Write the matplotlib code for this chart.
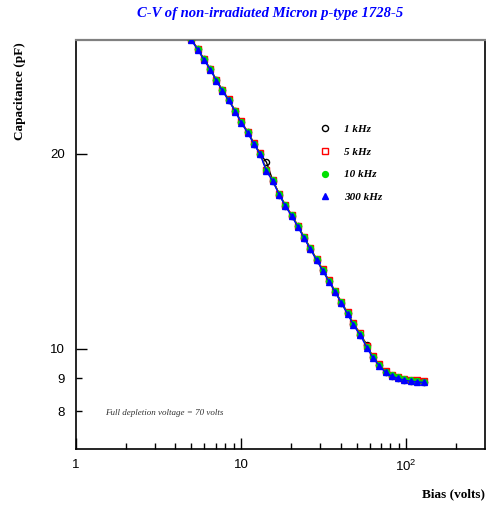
import matplotlib
matplotlib.use("Agg")
import matplotlib.pyplot as plt
from matplotlib.ticker import FixedLocator, FixedFormatter, NullFormatter

plt.rcParams["mathtext.fontset"] = "custom"
plt.rcParams["mathtext.rm"] = "Liberation Sans"
plt.rcParams["mathtext.it"] = "Liberation Sans:italic"
plt.rcParams["mathtext.bf"] = "Liberation Sans:bold"

volts = [4.98, 5.47, 5.97, 6.52, 7.09, 7.70, 8.42, 9.24, 10.0, 10.98, 11.99, 13.04,
         14.23, 15.56, 17.07, 18.56, 20.29, 22.13, 24.12, 26.30, 28.68, 31.27, 34.10,
         37.18, 40.54, 44.21, 47.93, 52.63, 57.78, 62.84, 68.89, 74.92, 81.90, 89.43,
         97.25, 106.2, 116.1, 127.3]

c_1k = [30.09, 29.03, 27.99, 27.03, 25.99, 25.08, 24.24, 23.27, 22.41, 21.60, 20.73, 20.01,
        19.43, 18.19, 17.30, 16.64, 16.06, 15.45, 14.85, 14.28, 13.73, 13.22, 12.72,
        12.25, 11.78, 11.34, 10.91, 10.52, 10.15, 9.70, 9.43, 9.21, 9.09, 9.02,
        8.96, 8.93, 8.91, 8.89]
c_5k = [30.15, 29.10, 28.05, 27.10, 26.05, 25.14, 24.30, 23.34, 22.47, 21.66, 20.79, 20.07,
        18.91, 18.24, 17.35, 16.69, 16.11, 15.50, 14.90, 14.32, 13.77, 13.26, 12.76,
        12.29, 11.82, 11.38, 10.95, 10.58, 10.10, 9.74, 9.46, 9.24, 9.12, 9.05,
        8.99, 8.96, 8.94, 8.92]
c_10k = [30.10, 29.05, 28.01, 27.05, 26.01, 25.10, 24.26, 23.30, 22.43, 21.62, 20.75, 20.03,
         18.87, 18.21, 17.32, 16.66, 16.08, 15.47, 14.87, 14.30, 13.75, 13.24, 12.74,
         12.27, 11.80, 11.36, 10.93, 10.54, 10.08, 9.72, 9.44, 9.22, 9.10, 9.03,
         8.97, 8.94, 8.92, 8.90]
c_300k = [30.02, 28.96, 27.93, 26.97, 25.94, 25.03, 24.19, 23.22, 22.36, 21.55, 20.69, 19.97,
          18.81, 18.15, 17.26, 16.60, 16.02, 15.41, 14.81, 14.24, 13.70, 13.19, 12.69,
          12.22, 11.75, 11.31, 10.88, 10.50, 10.04, 9.68, 9.41, 9.19, 9.07, 9.00,
          8.94, 8.91, 8.89, 8.87]

labels = ["1 kHz", "5 kHz", "10 kHz", "300 kHz"]
x_ticks = [1, 10, 100]
x_ticklabels = ["1", "10", "$10^{2}$"]
y_major = [10, 20]
y_major_labels = ["10", "20"]
y_minor = [8, 9]
y_minor_labels = ["8", "9"]

W, H = 486, 505
fig = plt.figure(figsize=(W / 100, H / 100), dpi=100)
ax = fig.add_axes([76 / W, 1 - 449 / H, (485 - 76) / W, (449 - 40) / H])
ax.set_xscale("log")
ax.set_yscale("log")
ax.set_xlim(1, 300)
ax.set_ylim(7.0, 30.0)

serif = "Liberation Serif"
sans = "Liberation Sans"

ax.plot(volts, c_1k, color="black", lw=1.0, marker="o", ms=4.4, mfc="none", mec="black",
        mew=1.0, label=labels[0], zorder=3)
ax.plot(volts, c_5k, color="red", lw=0.8, marker="s", ms=3.8, mfc="none", mec="red",
        mew=1.0, label=labels[1], zorder=4)
ax.plot(volts, c_10k, color="#00e000", lw=0.8, marker="o", ms=4.2, mfc="#00e000",
        mec="#00e000", label=labels[2], zorder=5)
ax.plot(volts, c_300k, color="blue", lw=1.0, marker="^", ms=4.0, mfc="blue", mec="blue",
        label=labels[3], zorder=6)

ax.xaxis.set_major_locator(FixedLocator(x_ticks))
ax.xaxis.set_major_formatter(FixedFormatter(x_ticklabels))
ax.xaxis.set_minor_locator(FixedLocator([2, 3, 4, 5, 6, 7, 8, 9, 20, 30, 40, 50, 60, 70, 80, 90, 200]))
ax.xaxis.set_minor_formatter(NullFormatter())
ax.yaxis.set_major_locator(FixedLocator(y_major))
ax.yaxis.set_minor_locator(FixedLocator(y_minor))
ax.yaxis.set_major_formatter(FixedFormatter(y_major_labels))
ax.yaxis.set_minor_formatter(FixedFormatter(y_minor_labels))

ax.tick_params(axis="both", which="both", direction="in", top=False, right=False,
               labelsize=9.5, width=1.0)
ax.tick_params(axis="both", which="major", length=8)
ax.tick_params(axis="both", which="minor", length=4)
ax.tick_params(axis="x", which="both", pad=7)
ax.tick_params(axis="y", which="both", pad=8)
for lab in ax.get_xticklabels() + ax.get_yticklabels(which="both"):
    lab.set_fontfamily(sans)

for s in ["left", "bottom", "right"]:
    ax.spines[s].set_linewidth(1.2)
    ax.spines[s].set_color("black")
ax.spines["top"].set_linewidth(1.6)
ax.spines["top"].set_color("#808080")

fig.text(270 / W, 1 - 14 / H, "C-V of non-irradiated Micron p-type 1728-5", color="blue",
         fontsize=10.5, fontweight="bold", fontstyle="italic", family=serif,
         ha="center", va="center")
fig.text(20 / W, 1 - 42 / H, "Capacitance (pF)", rotation=90, fontsize=9.5,
         fontweight="bold", family=serif, ha="center", va="top")
fig.text(485 / W, 1 - 494 / H, "Bias (volts)", fontsize=9.5, fontweight="bold",
         family=serif, ha="right", va="center")
fig.text(105 / W, 1 - 413 / H, "Full depletion voltage = 70 volts", fontsize=6.5,
         fontstyle="italic", family=serif, ha="left", va="center", color="#333333")

leg = ax.legend(loc="upper left", bbox_to_anchor=(314 / W, 1 - 119 / H),
                bbox_transform=fig.transFigure, frameon=False, borderpad=0,
                handlelength=0.9, handletextpad=1.3, labelspacing=1.15,
                prop={"family": serif, "weight": "bold", "style": "italic", "size": 8})
for lh in leg.get_lines():
    lh.set_linestyle("none")

fig.savefig("out.png", dpi=100)
